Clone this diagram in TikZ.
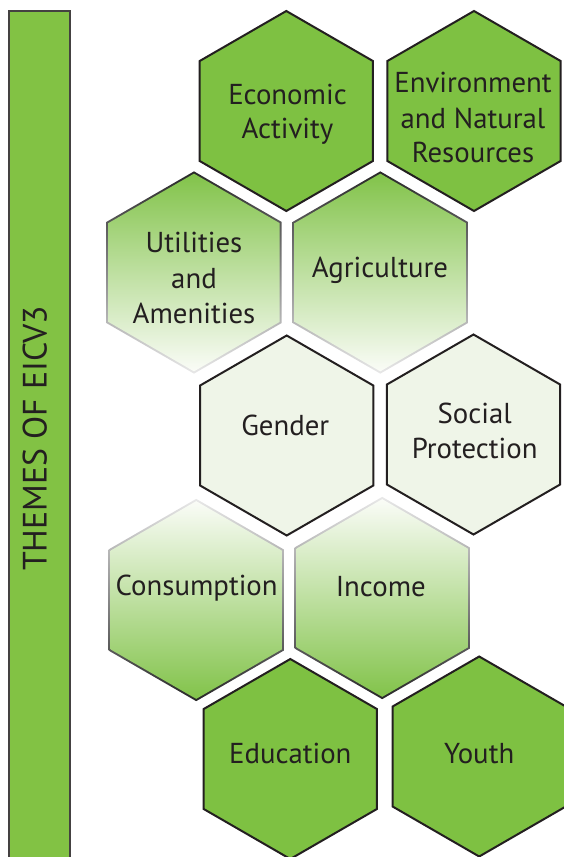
\documentclass[tikz,border=0pt]{standalone}
\usepackage{fontspec}
\setmainfont{PT Sans}
\usetikzlibrary{shapes.geometric}
\definecolor{hexgreen}{RGB}{126,193,66}
\definecolor{bargreen}{RGB}{130,194,68}
\definecolor{inkdark}{RGB}{35,31,32}
\definecolor{palegreen}{RGB}{239,245,232}
\definecolor{gradgreen}{RGB}{130,195,74}
\definecolor{gradwhite}{RGB}{250,252,247}
\definecolor{bordark}{RGB}{40,40,40}
\definecolor{borlight}{RGB}{232,232,232}
\tikzset{
  hexbase/.style={regular polygon, regular polygon sides=6, shape border rotate=30,
    inner sep=0pt, outer sep=0pt},
  hexsolid/.style={hexbase, minimum size=200pt, draw=inkdark, line width=2pt, fill=hexgreen},
  hexpale/.style={hexbase, minimum size=200pt, draw=inkdark, line width=2pt, fill=palegreen},
  hexrimdown/.style={hexbase, minimum size=202.3pt, top color=bordark, bottom color=borlight},
  hexfilldown/.style={hexbase, minimum size=197.7pt, top color=gradgreen, bottom color=gradwhite},
  hexrimup/.style={hexbase, minimum size=202.3pt, top color=borlight, bottom color=bordark},
  hexfillup/.style={hexbase, minimum size=197.7pt, top color=gradwhite, bottom color=gradgreen},
  lbl/.style={anchor=base, inner sep=0pt, text=inkdark, font=\fontsize{28.8}{35}\selectfont},
  bartext/.style={rotate=90, inner sep=0pt, text=inkdark, font=\fontsize{33.8}{40}\selectfont},
  barbox/.style={draw=inkdark!85, line width=2pt, fill=bargreen}
}
\begin{document}
\begin{tikzpicture}[x=1pt,y=-1pt]
\useasboundingbox (0,0) rectangle (564,857);
% side bar
\draw[barbox] (9,11) rectangle (70,880);
\node[bartext] (title) at (34.7,438.3) {THEMES OF EICV3};
% row 1
\node[hexsolid] (econ) at (286.3,111) {};
\node[hexsolid] (env) at (474,111) {};
% row 2
\node[hexrimdown] (util) at (194,272.5) {};
\node[hexfilldown] (utilin) at (util.center) {};
\node[hexrimdown] (agri) at (380.3,272.5) {};
\node[hexfilldown] (agriin) at (agri.center) {};
% row 3
\node[hexpale] (gender) at (286.7,435.5) {};
\node[hexpale] (social) at (473.5,434.5) {};
% row 4
\node[hexrimup] (cons) at (196.2,600) {};
\node[hexfillup] (consin) at (cons.center) {};
\node[hexrimup] (income) at (382.2,598) {};
\node[hexfillup] (incomein) at (income.center) {};
% row 5
\node[hexsolid] (edu) at (290.3,759) {};
\node[hexsolid] (youth) at (479.2,756.5) {};
% labels
\node[lbl] (econ1) at (287.5,104.3) {Economic};
\node[lbl] (econ2) at (287.5,138.3) {Activity};
\node[lbl] (env1) at (473,92.7) {Environment};
\node[lbl] (env2) at (473,128.3) {and Natural};
\node[lbl] (env3) at (473,162.3) {Resources};
\node[lbl] (util1) at (194,252.7) {Utilities};
\node[lbl] (util2) at (194,288.3) {and};
\node[lbl] (util3) at (194,323.3) {Amenities};
\node[lbl] (agri1) at (380,277.3) {Agriculture};
\node[lbl] (gender1) at (285.3,435) {Gender};
\node[lbl] (social1) at (474.7,423.3) {Social};
\node[lbl] (social2) at (474.7,458.3) {Protection};
\node[lbl] (cons1) at (196.7,595) {Consumption};
\node[lbl] (income1) at (380.8,596.7) {Income};
\node[lbl] (edu1) at (290.3,763.3) {Education};
\node[lbl] (youth1) at (479.2,763.3) {Youth};
\end{tikzpicture}
\end{document}
